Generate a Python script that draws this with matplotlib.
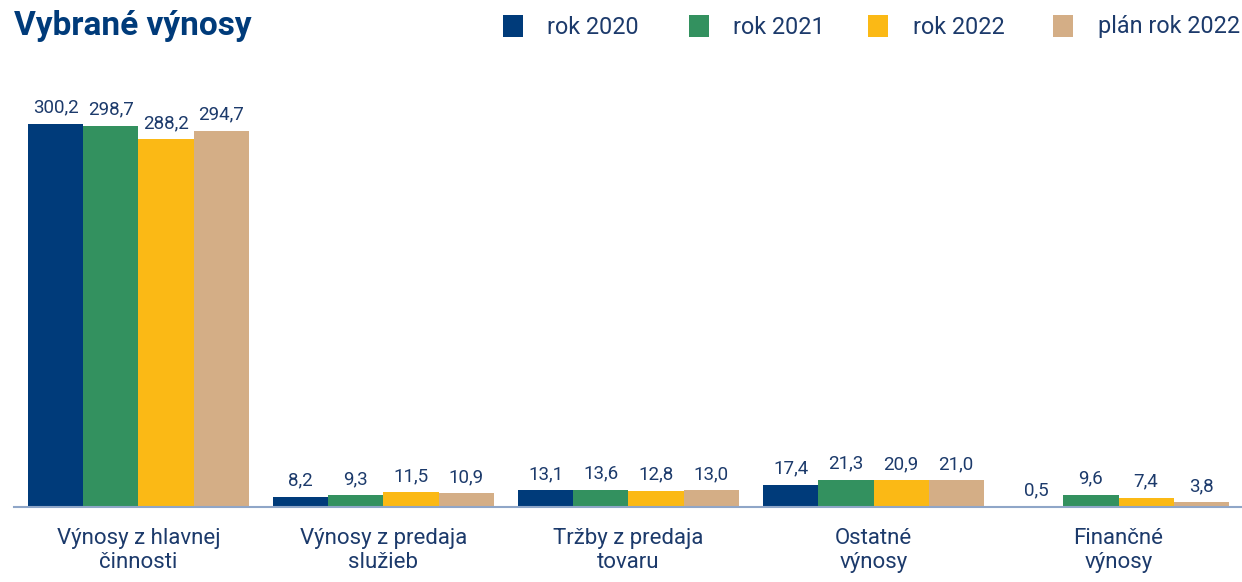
import numpy as np
import matplotlib
matplotlib.use("Agg")
import matplotlib.pyplot as plt
from matplotlib.patches import Rectangle
from matplotlib import font_manager

# --- Data ---
categories = ["Výnosy z hlavnej\nčinnosti", "Výnosy z predaja\nslužieb",
              "Tržby z predaja\ntovaru", "Ostatné\nvýnosy", "Finančné\nvýnosy"]
series_names = ["rok 2020", "rok 2021", "rok 2022", "plán rok 2022"]
rok_2020 = [300.2, 8.2, 13.1, 17.4, 0.5]
rok_2021 = [298.7, 9.3, 13.6, 21.3, 9.6]
rok_2022 = [288.2, 11.5, 12.8, 20.9, 7.4]
plan_2022 = [294.7, 10.9, 13.0, 21.0, 3.8]
series = [rok_2020, rok_2021, rok_2022, plan_2022]

colors = ["#003b7a", "#33915f", "#fbb915", "#d4ae86"]
text_color = "#1c3a6b"

names = {f.name for f in font_manager.fontManager.ttflist}
family = ["Liberation Sans Narrow", "DejaVu Sans"] if "Liberation Sans Narrow" in names \
    else ["Roboto", "DejaVu Sans"]
plt.rcParams["font.family"] = family

W, H = 1242, 582
fig = plt.figure(figsize=(W / 100, H / 100), dpi=100)
# axes placed in pixel terms: baseline at y=507, x from 14 to 1242
ax = fig.add_axes([14 / W, (H - 507) / H, (W - 14) / W, (507 - 60) / H])

x = np.arange(len(categories))
bw = 0.225
for i, (vals, c) in enumerate(zip(series, colors)):
    bars = ax.bar(x + (i - 1.5) * bw, vals, width=bw, color=c, linewidth=0)
    ax.bar_label(bars, labels=[f"{v:.1f}".replace(".", ",") for v in vals],
                 padding=5, fontsize=13.5, color=text_color)

ax.set_xlim(-0.508, 4.504)
ax.set_ylim(0, 350)
ax.set_xticks(x)
ax.set_xticklabels(categories, fontsize=16, color=text_color, linespacing=1.2)
ax.tick_params(axis="x", length=0, pad=15)
ax.set_yticks([])
for s in ["top", "left", "right"]:
    ax.spines[s].set_visible(False)
ax.spines["bottom"].set_color("#8fa6c8")
ax.spines["bottom"].set_linewidth(1.5)

# Title
fig.text(14 / W, 1 - 26 / H, "Vybrané výnosy", fontsize=24, fontweight="bold",
         color="#003b7a", va="center", ha="left")

# Legend (manual, top right)
sq_x = [503, 689, 868, 1053]
txt_x = [547, 733, 913, 1098]
for sx, tx, name, c in zip(sq_x, txt_x, series_names, colors):
    fig.patches.append(Rectangle((sx / W, 1 - 37 / H), 20 / W, 22 / H,
                                 transform=fig.transFigure, color=c, linewidth=0))
    fig.text(tx / W, 1 - 27 / H, name, fontsize=16.8, color=text_color,
             va="center", ha="left")

fig.savefig("out.png", dpi=100)
